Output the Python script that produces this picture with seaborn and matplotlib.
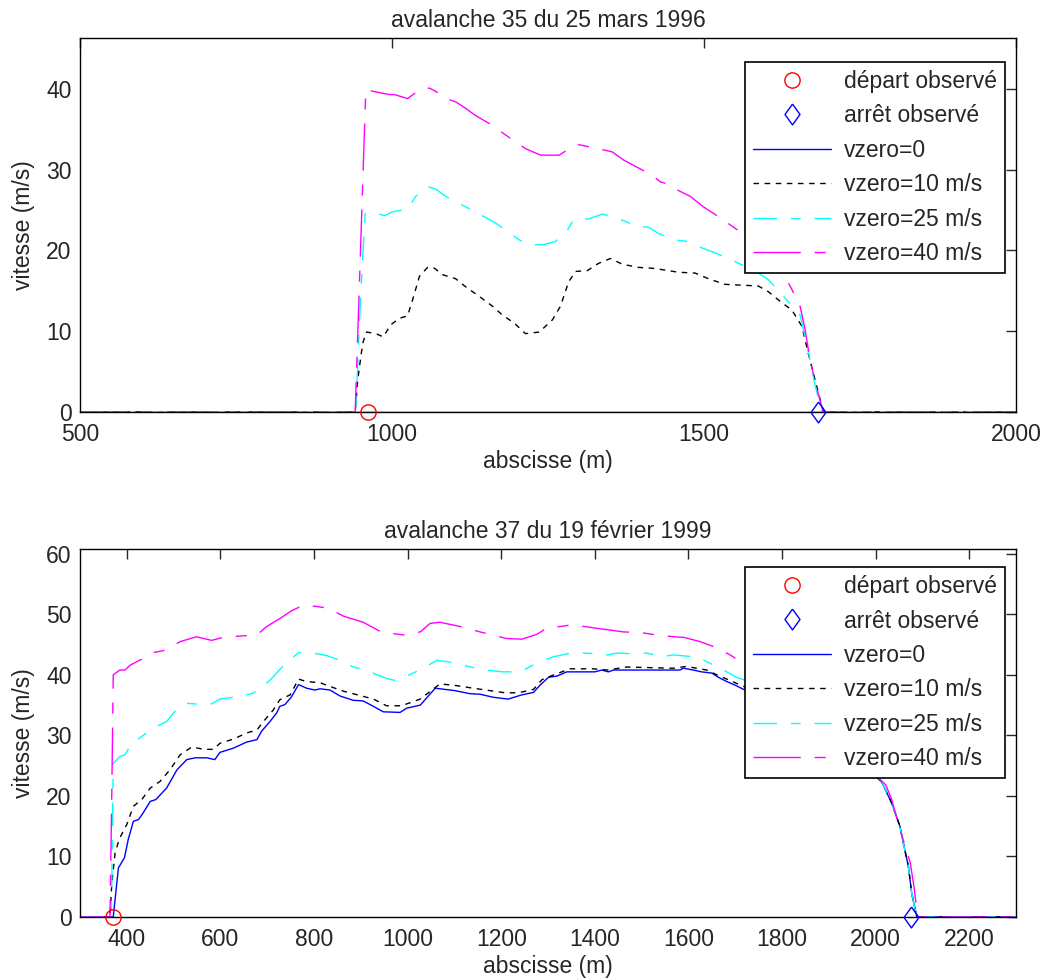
import matplotlib
matplotlib.use("Agg")
import matplotlib.pyplot as plt
import seaborn as sns
import pandas as pd
from matplotlib.lines import Line2D

# avalanche 35 du 25 mars 1996
x35_v0 = [500, 2000]
v35_v0 = [0, 0]
x35_v10 = [500, 941, 945, 953, 959, 974, 986, 998, 1012, 1025, 1033, 1044, 1057, 1068, 1081, 1102,
           1118, 1140, 1161, 1177, 1196, 1214, 1236, 1257, 1270, 1283, 1294, 1313, 1331, 1350, 1369,
           1395, 1417, 1435, 1459, 1486, 1507, 1534, 1587, 1603, 1622, 1641, 1657, 1667, 1678, 1689,
           1693, 2000]
v35_v10 = [0, 0, 3.95, 8.5, 9.9, 9.7, 9.3, 10.8, 11.6, 11.9, 13.9, 16.8, 17.9, 17.8, 17.0, 16.5,
           15.5, 14.3, 13.1, 12.0, 11.0, 9.7, 9.9, 11.4, 13.1, 16.1, 17.4, 17.5, 18.4, 19.0, 18.3,
           17.9, 17.8, 17.6, 17.3, 17.2, 16.5, 15.8, 15.6, 14.9, 13.7, 12.6, 10.6, 7.3, 3.96, 0.7,
           0, 0]
x35_v25 = [500, 942, 948, 953, 957, 980, 988, 1001, 1025, 1038, 1057, 1070, 1086, 1113, 1140, 1166,
           1193, 1204, 1225, 1241, 1262, 1281, 1291, 1315, 1337, 1353, 1374, 1395, 1411, 1427, 1454,
           1475, 1497, 1518, 1545, 1561, 1585, 1603, 1630, 1654, 1665, 1678, 1689, 2000]
v35_v25 = [0, 0, 11.4, 19.2, 24.6, 24.5, 24.3, 24.8, 25.1, 26.7, 27.9, 27.6, 26.7, 25.6, 24.5, 23.4,
           21.9, 21.3, 20.7, 20.7, 21.1, 22.5, 23.8, 23.9, 24.5, 24.2, 23.6, 22.9, 22.9, 22.1, 21.3,
           21.1, 20.3, 19.7, 18.8, 18.2, 17.3, 16.4, 14.1, 12.0, 8.3, 3.3, 0, 0]
x35_v40 = [500, 941, 958, 982, 996, 1004, 1025, 1046, 1060, 1070, 1086, 1102, 1118, 1132, 1156, 1182,
           1214, 1238, 1268, 1284, 1299, 1331, 1353, 1371, 1393, 1417, 1430, 1443, 1457, 1478, 1499,
           1515, 1534, 1558, 1590, 1620, 1640, 1654, 1662, 1670, 1681, 1691, 2000]
v35_v40 = [0, 0, 39.9, 39.5, 39.3, 39.3, 38.8, 40.0, 40.1, 39.7, 38.8, 38.4, 37.6, 36.8, 35.7, 34.3,
           32.6, 31.8, 31.8, 32.6, 33.1, 32.6, 32.2, 31.2, 30.3, 29.3, 28.5, 28.2, 27.5, 26.7, 25.4,
           24.6, 23.6, 22.3, 20.5, 18.2, 15.3, 13.1, 10.2, 6.4, 2.9, 0, 0]
depart35, arret35 = 962, 1682

# avalanche 37 du 19 fevrier 1999
x37_v0 = [300, 371, 382, 395, 403, 414, 425, 435, 450, 462, 485, 507, 528, 546, 571, 588, 599, 628,
          656, 678, 688, 706, 720, 727, 738, 752, 767, 784, 802, 813, 834, 856, 884, 905, 927, 948,
          984, 998, 1027, 1059, 1101, 1133, 1155, 1183, 1215, 1244, 1269, 1283, 1301, 1319, 1340,
          1400, 1415, 1429, 1440, 1582, 1589, 1611, 1628, 1650, 1664, 1682, 1700, 1718, 1780, 1850,
          1920, 1980, 2013, 2034, 2052, 2059, 2070, 2077, 2088, 2300]
v37_v0 = [0, 0, 8.1, 9.8, 12.8, 15.8, 16.1, 17.2, 19.1, 19.4, 21.3, 24.3, 26.0, 26.3, 26.3, 26.0,
          27.2, 27.9, 28.9, 29.3, 30.7, 32.3, 33.7, 34.8, 35.1, 36.4, 38.4, 37.8, 37.5, 37.7, 37.5,
          36.5, 35.8, 35.7, 34.8, 33.9, 33.8, 34.5, 35.0, 37.8, 37.4, 36.9, 36.8, 36.3, 36.0, 36.7,
          37.1, 38.3, 39.6, 39.8, 40.5, 40.5, 40.8, 40.5, 40.8, 40.8, 41.1, 40.8, 40.5, 40.3, 39.6,
          38.9, 38.3, 37.6, 36.0, 33.0, 28.8, 24.6, 22.3, 18.9, 15.0, 12.3, 8.4, 4.0, 0, 0]
x37_v10 = [300, 364, 368, 375, 384, 400, 414, 432, 450, 471, 492, 514, 539, 564, 585, 599, 628, 656,
           678, 692, 713, 727, 749, 767, 784, 813, 834, 863, 898, 927, 955, 987, 1027, 1069, 1098,
           1140, 1176, 1212, 1240, 1269, 1287, 1312, 1347, 1397, 1426, 1468, 1568, 1596, 1639, 1661,
           1682, 1703, 1718, 1780, 1850, 1920, 1980, 2013, 2034, 2052, 2059, 2070, 2077, 2088, 2300]
v37_v10 = [0, 0, 5.7, 10.6, 12.9, 15.3, 18.3, 19.4, 21.3, 22.4, 24.3, 26.8, 28.1, 27.7, 27.7, 28.7,
           29.4, 30.4, 30.9, 32.3, 34.2, 35.9, 36.7, 39.3, 38.9, 38.7, 38.1, 37.3, 36.6, 36.0, 34.9,
           34.9, 36.0, 38.5, 38.3, 37.8, 37.4, 37.0, 37.1, 37.6, 39.2, 40.0, 41.0, 41.0, 40.8, 41.3,
           41.1, 41.4, 40.8, 40.0, 39.3, 38.6, 38.1, 36.5, 33.5, 29.0, 24.8, 22.4, 18.9, 15.0, 12.3,
           8.4, 4.0, 0, 0]
x37_v25 = [300, 367, 371, 385, 396, 407, 428, 442, 464, 485, 503, 528, 546, 578, 599, 628, 667, 688,
           713, 727, 745, 767, 799, 827, 856, 881, 916, 959, 973, 998, 1034, 1062, 1084, 1119, 1162,
           1205, 1240, 1283, 1312, 1354, 1404, 1426, 1447, 1482, 1511, 1543, 1568, 1611, 1628, 1668,
           1703, 1718, 1780, 1850, 1920, 1980, 2013, 2034, 2052, 2059, 2070, 2077, 2088, 2300]
v37_v25 = [0, 0, 25.4, 26.5, 26.8, 28.2, 29.6, 30.4, 31.5, 32.3, 34.0, 35.3, 35.2, 35.1, 36.0, 36.3,
           36.9, 37.8, 39.7, 40.9, 42.2, 43.7, 43.6, 43.2, 42.4, 41.4, 40.6, 39.3, 39.1, 39.8, 41.1,
           42.4, 42.2, 41.6, 40.8, 40.5, 40.5, 42.2, 43.0, 43.7, 43.5, 43.3, 43.6, 43.5, 43.6, 43.0,
           43.3, 43.0, 42.6, 41.1, 39.6, 39.2, 37.0, 34.0, 29.5, 25.0, 22.4, 18.9, 15.0, 12.3, 8.4,
           4.0, 0, 0]
x37_v40 = [300, 364, 368, 371, 385, 396, 407, 432, 450, 478, 496, 514, 549, 581, 606, 638, 678, 699,
           727, 752, 777, 806, 831, 863, 905, 941, 962, 991, 1027, 1048, 1069, 1112, 1155, 1212, 1244,
           1276, 1297, 1326, 1354, 1369, 1404, 1433, 1461, 1497, 1532, 1568, 1590, 1625, 1660, 1689,
           1718, 1780, 1850, 1920, 1980, 2022, 2034, 2052, 2074, 2082, 2090, 2300]
v37_v40 = [0, 0, 21.0, 40.0, 40.8, 40.8, 41.6, 42.6, 43.6, 44.0, 44.7, 45.5, 46.3, 45.7, 46.2, 46.4,
           46.6, 48.0, 49.3, 50.6, 51.5, 51.3, 51.0, 49.7, 48.7, 47.2, 46.9, 46.6, 47.1, 48.5, 48.7,
           48.0, 47.1, 46.0, 45.9, 46.7, 47.7, 48.0, 48.3, 48.1, 47.7, 47.4, 47.1, 47.0, 46.6, 46.3,
           46.2, 45.5, 44.5, 43.3, 41.9, 39.0, 35.0, 30.0, 25.0, 21.8, 19.5, 14.5, 9.0, 5.0, 0, 0]
depart37, arret37 = 370, 2075

labels = ["vzero=0", "vzero=10 m/s", "vzero=25 m/s", "vzero=40 m/s"]
colors = ["#0000ff", "#000000", "#00ffff", "#ff00ff"]
styles = ["-", (0, (4, 4)), (0, (17, 10, 7, 10)), (0, (34, 10, 8, 10))]

sns.set_style("white")
plt.rcParams["font.family"] = ["Liberation Sans", "DejaVu Sans"]
plt.rcParams["font.size"] = 16.5

fig = plt.figure(figsize=(10.46, 9.8), dpi=100)
ax1 = fig.add_axes([0.0765, 0.5796, 0.8948, 0.3816])
ax2 = fig.add_axes([0.0765, 0.0643, 0.8948, 0.3755])

diamond = [(0, 1), (0.72, 0), (0, -1), (-0.72, 0), (0, 1)]
fs = 16.5


def draw(ax, curves, depart, arret, title, xlim, ylim, xticks, yticks, lgd_y):
    for (xs, vs), lab, col, ls in zip(curves, labels, colors, styles):
        df = pd.DataFrame({"x": xs, "v": vs})
        sns.lineplot(data=df, x="x", y="v", ax=ax, color=col, linestyle=ls,
                     linewidth=1.0, estimator=None, sort=False)
    ax.plot([depart], [0], marker="o", ms=11, mfc="none", mec="#ff0000", mew=1,
            ls="none", clip_on=False, zorder=5)
    ax.plot([arret], [0], marker=diamond, ms=15, mfc="none", mec="#0000ff", mew=1,
            ls="none", clip_on=False, zorder=5)
    ax.set_xlim(*xlim)
    ax.set_ylim(*ylim)
    ax.set_xticks(xticks)
    ax.set_yticks(yticks)
    ax.set_title(title, fontsize=fs, pad=8)
    ax.set_xlabel("abscisse (m)", fontsize=fs, labelpad=3)
    ax.set_ylabel("vitesse (m/s)", fontsize=fs, labelpad=8)
    ax.tick_params(axis="both", direction="in", top=True, right=True, length=7, width=1,
                   labelsize=fs)
    ax.tick_params(axis="x", pad=8)
    ax.tick_params(axis="y", pad=6)
    for s in ax.spines.values():
        s.set_color("black")
        s.set_linewidth(1)
    handles = [
        Line2D([], [], marker="o", ms=11, mfc="none", mec="#ff0000", ls="none"),
        Line2D([], [], marker=diamond, ms=15, mfc="none", mec="#0000ff", ls="none"),
    ] + [Line2D([], [], color=c, ls=s, lw=1) for c, s in zip(colors, styles)]
    leg = ax.legend(handles, ["départ observé", "arrêt observé"] + labels,
                    loc="upper right", bbox_to_anchor=(0.988, lgd_y), fontsize=fs,
                    frameon=True, fancybox=False, framealpha=1, edgecolor="black",
                    handlelength=3.4, handletextpad=0.55, labelspacing=0.5,
                    borderpad=0.35, borderaxespad=0)
    leg.get_frame().set_linewidth(1.2)


draw(ax1, [(x35_v0, v35_v0), (x35_v10, v35_v10), (x35_v25, v35_v25), (x35_v40, v35_v40)],
     depart35, arret35, "avalanche 35 du 25 mars 1996", (500, 2000), (0, 46.3),
     [500, 1000, 1500, 2000], [0, 10, 20, 30, 40], 0.936)
draw(ax2, [(x37_v0, v37_v0), (x37_v10, v37_v10), (x37_v25, v37_v25), (x37_v40, v37_v40)],
     depart37, arret37, "avalanche 37 du 19 février 1999", (300, 2300), (0, 60.8),
     list(range(400, 2300, 200)), [0, 10, 20, 30, 40, 50, 60], 0.951)

fig.savefig("out.png", dpi=100)
